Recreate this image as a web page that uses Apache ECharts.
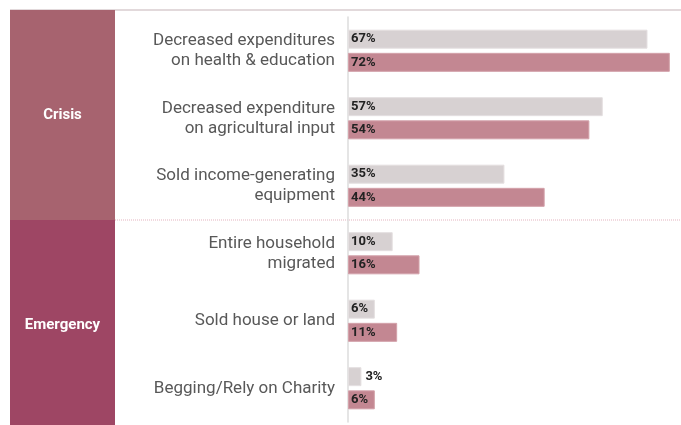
<!DOCTYPE html>
<html>
<head>
<meta charset="utf-8">
<script src="https://cdn.jsdelivr.net/npm/echarts@6/dist/echarts.min.js"></script>
<style>html,body{margin:0;padding:0;background:#fff}#c{width:681px;height:425px}</style>
</head>
<body>
<div id="c"></div>
<script>
var categories = [
  'Decreased expenditures\non health & education',
  'Decreased expenditure\non agricultural input',
  'Sold income-generating\nequipment',
  'Entire household\nmigrated',
  'Sold house or land',
  'Begging/Rely on Charity'
];
var grayValues = [67, 57, 35, 10, 6, 3];
var pinkValues = [72, 54, 44, 16, 11, 6];
var groups = ['Crisis', 'Emergency'];
var groupColors = ['#a7636f', '#9e4664'];

var chart = echarts.init(document.getElementById('c'), null, {renderer: 'canvas'});

function valLabels(vals) {
  return vals.map(function (v) {
    var d = {value: v};
    if (v < 5) d.label = {position: 'right', distance: 4};
    return d;
  });
}

var labelStyle = {
  show: true, position: 'insideLeft', distance: 3,
  formatter: '{c}%', color: '#222', fontWeight: 'bold', fontSize: 13,
  fontFamily: 'Roboto'
};

chart.setOption({
  animation: false,
  textStyle: {fontFamily: 'Roboto'},
  grid: [
    {left: 348, right: 0, top: 17, bottom: 3},
    {left: 10, width: 105, top: 10, height: 420, outerBoundsMode: 'none'}
  ],
  xAxis: [
    {gridIndex: 0, type: 'value', min: 0, max: 74.5, show: false},
    {gridIndex: 1, type: 'value', min: 0, max: 1, show: false}
  ],
  yAxis: [
    {
      gridIndex: 0, type: 'category', data: categories, inverse: true,
      axisLine: {show: true, lineStyle: {color: '#dcdcdc', width: 1.5}},
      axisTick: {show: false},
      splitLine: {show: false},
      axisLabel: {
        color: '#585858', fontSize: 17, fontFamily: 'Roboto', lineHeight: 20,
        margin: 13, align: 'right', padding: [4, 0, 0, 0]
      }
    },
    {
      gridIndex: 1, type: 'category', data: groups, inverse: true,
      show: false
    }
  ],
  series: [
    {
      type: 'bar', xAxisIndex: 0, yAxisIndex: 0, name: 'A',
      data: valLabels(grayValues), barWidth: 19, barGap: '22%',
      itemStyle: {color: '#d7d1d2', borderColor: '#e4dfe0', borderWidth: 1},
      label: labelStyle
    },
    {
      type: 'bar', xAxisIndex: 0, yAxisIndex: 0, name: 'B',
      data: valLabels(pinkValues), barWidth: 19, barGap: '22%',
      itemStyle: {color: '#c38792', borderColor: '#d3a2aa', borderWidth: 1},
      label: labelStyle
    },
    {
      type: 'bar', xAxisIndex: 1, yAxisIndex: 1, name: 'groups',
      barCategoryGap: 0, silent: true,
      data: groups.map(function (g, i) {
        return {value: 1, itemStyle: {color: groupColors[i]}};
      }),
      label: {
        show: true, position: 'inside', formatter: '{b}', color: '#fff',
        fontWeight: 'bold', fontSize: 15, fontFamily: 'Roboto'
      }
    }
  ],
  graphic: [
    {type: 'rect', shape: {x: 10, y: 9, width: 671, height: 2}, style: {fill: '#e2d9db'}, silent: true},
    {type: 'line', shape: {x1: 115, y1: 220, x2: 681, y2: 220},
      style: {stroke: '#e3b3bf', lineWidth: 1, lineDash: [1, 1]}, silent: true}
  ]
});
</script>
</body>
</html>
